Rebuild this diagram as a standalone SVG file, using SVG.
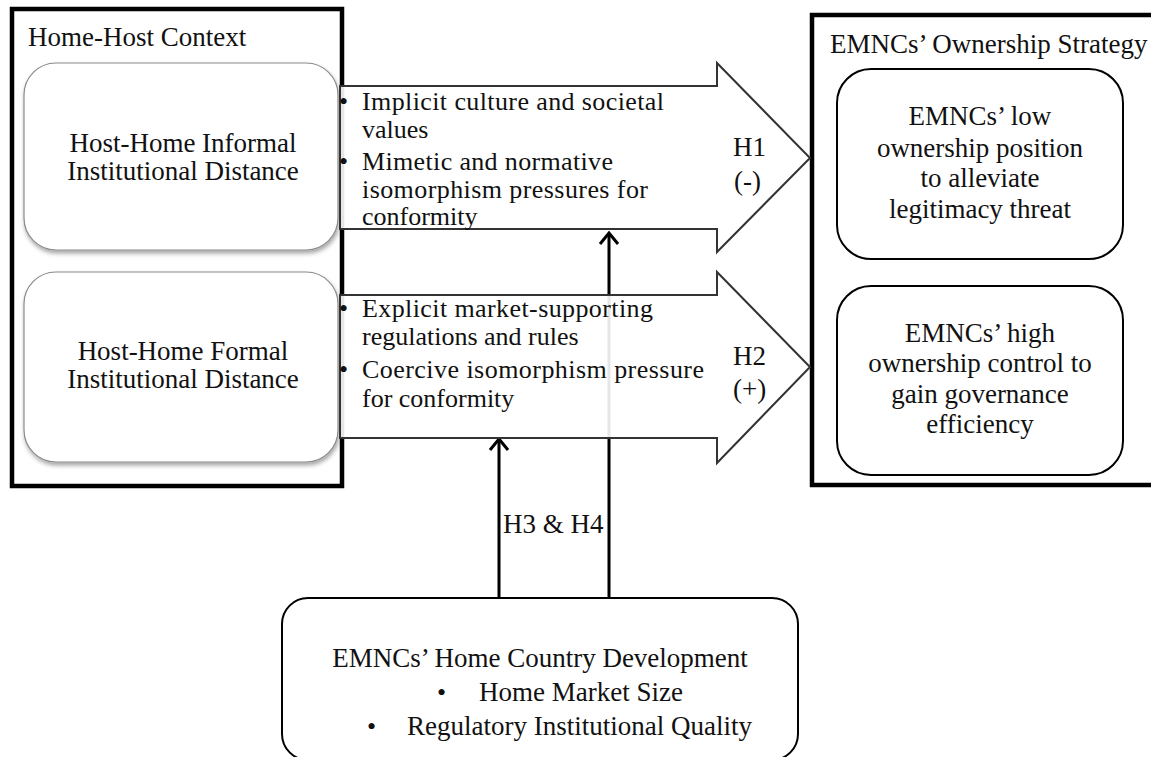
<svg xmlns="http://www.w3.org/2000/svg" width="1151" height="757" viewBox="0 0 1151 757">
<style>
.t{font-family:"Liberation Serif","Times New Roman",serif;font-size:27px;fill:#111}
.a{font-family:"Liberation Serif","Times New Roman",serif;font-size:26px;fill:#111}
.b{font-family:"Liberation Serif","Times New Roman",serif;font-size:26px;fill:#111}
.outer{fill:#fff;stroke:#000;stroke-width:4.5}
.soft{fill:#fff;stroke:#8a8a8a;stroke-width:1.2;filter:url(#sh)}
.box{fill:#fff;stroke:#000;stroke-width:2}
.big{fill:#fff;fill-opacity:0.9;stroke:#333;stroke-width:2}
.con{stroke:#000;stroke-width:3;fill:none;marker-end:url(#open)}
</style>
<defs>
<filter id="sh" x="-10%" y="-10%" width="120%" height="125%">
<feDropShadow dx="1" dy="3" stdDeviation="2" flood-color="#000" flood-opacity="0.35"/>
</filter>
<marker id="open" markerUnits="userSpaceOnUse" viewBox="-2 -12 16 24" markerWidth="16" markerHeight="24" refX="11" refY="0" orient="auto">
<path d="M1,-9 L12,0 L1,9" fill="none" stroke="#000" stroke-width="3"/>
</marker>
</defs>
<rect width="1151" height="757" fill="#fff"/>

<g id="home-host-context">
<rect class="outer" x="12" y="9" width="330" height="477"/>
<text class="t" x="28" y="46">Home-Host Context</text>
</g>
<g id="informal-distance">
<rect class="soft" x="24" y="63" width="314" height="187" rx="32"/>
<text class="t" text-anchor="middle" x="183" y="152">Host-Home Informal</text>
<text class="t" text-anchor="middle" x="183" y="180">Institutional Distance</text>
</g>
<g id="formal-distance">
<rect class="soft" x="24" y="272" width="314" height="190" rx="32"/>
<text class="t" text-anchor="middle" x="183" y="360">Host-Home Formal</text>
<text class="t" text-anchor="middle" x="183" y="388">Institutional Distance</text>
</g>

<g id="ownership-strategy">
<rect class="outer" x="812" y="15" width="345" height="470"/>
<text class="t" x="830" y="53">EMNCs’ Ownership Strategy</text>
</g>
<g id="low-ownership">
<rect class="box" x="837" y="69" width="286" height="190" rx="34"/>
<text class="t" text-anchor="middle" x="980" y="125">EMNCs’ low</text>
<text class="t" text-anchor="middle" x="980" y="157">ownership position</text>
<text class="t" text-anchor="middle" x="980" y="187">to alleviate</text>
<text class="t" text-anchor="middle" x="980" y="218">legitimacy threat</text>
</g>
<g id="high-ownership">
<rect class="box" x="837" y="286" width="286" height="189" rx="34"/>
<text class="t" text-anchor="middle" x="980" y="342">EMNCs’ high</text>
<text class="t" text-anchor="middle" x="980" y="372">ownership control to</text>
<text class="t" text-anchor="middle" x="980" y="403">gain governance</text>
<text class="t" text-anchor="middle" x="980" y="433">efficiency</text>
</g>

<g id="home-country-development">
<rect class="box" x="282" y="598" width="516" height="162" rx="26"/>
<text class="t" text-anchor="middle" x="540" y="667">EMNCs’ Home Country Development</text>
<text class="b" x="437" y="701">•</text>
<text class="t" x="479" y="701">Home Market Size</text>
<text class="b" x="367" y="735">•</text>
<text class="t" x="407" y="735">Regulatory Institutional Quality</text>
</g>

<g id="connectors">
<line class="con" x1="609" y1="598" x2="609" y2="234"/>
<line class="con" x1="499" y1="598" x2="499" y2="440"/>
<text class="t" x="503" y="533">H3 &amp; H4</text>
</g>

<g id="informal-arrow">
<polygon class="big" points="340,86 717,86 717,63 810,158 717,252 717,229 340,229"/>
<text class="b" x="339" y="110">•</text>
<text class="a" x="362" y="110" textLength="302" lengthAdjust="spacing">Implicit culture and societal</text>
<text class="a" x="362" y="138">values</text>
<text class="b" x="339" y="170">•</text>
<text class="a" x="362" y="170" textLength="251" lengthAdjust="spacing">Mimetic and normative</text>
<text class="a" x="362" y="198" textLength="286" lengthAdjust="spacing">isomorphism pressures for</text>
<text class="a" x="362" y="225">conformity</text>
<text class="t" x="733" y="156">H1</text>
<text class="t" x="734" y="190">(-)</text>
</g>

<g id="formal-arrow">
<polygon class="big" points="340,295 717,295 717,272 810,367 717,463 717,438 340,438"/>
<text class="b" x="339" y="317">•</text>
<text class="a" x="362" y="317" textLength="291" lengthAdjust="spacing">Explicit market-supporting</text>
<text class="a" x="362" y="345">regulations and rules</text>
<text class="b" x="339" y="378">•</text>
<text class="a" x="362" y="378" textLength="342" lengthAdjust="spacing">Coercive isomorphism pressure</text>
<text class="a" x="362" y="407">for conformity</text>
<text class="t" x="733" y="365">H2</text>
<text class="t" x="733" y="398">(+)</text>
</g>
</svg>
